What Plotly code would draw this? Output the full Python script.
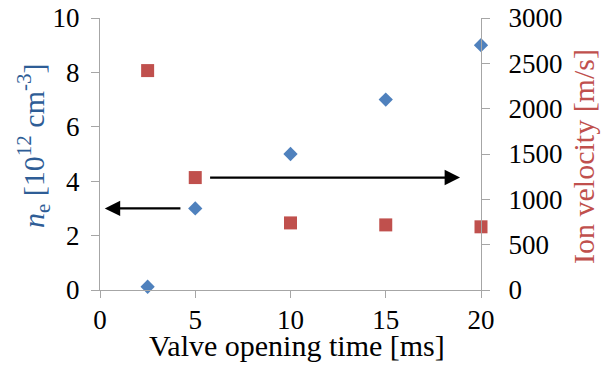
import plotly.graph_objects as go

valve_time = [2.5, 5, 10, 15, 20]
ne_values = [0.12, 3.0, 5.0, 7.0, 9.0]
ion_velocity = [2420, 1240, 740, 718, 697]
x_ticks = [0, 5, 10, 15, 20]
left_ticks = [0, 2, 4, 6, 8, 10]
right_ticks = [0, 500, 1000, 1500, 2000, 2500, 3000]

font_family = "Liberation Serif"
blue = "#4F81BD"
red = "#C0504D"
axis_gray = "#A6A6A6"

fig = go.Figure()
fig.add_trace(go.Scatter(x=valve_time, y=ne_values, mode="markers",
                         marker=dict(symbol="diamond", size=11, color=blue),
                         yaxis="y", showlegend=False, cliponaxis=False))
fig.add_trace(go.Scatter(x=valve_time, y=ion_velocity, mode="markers",
                         marker=dict(symbol="square", size=13, color=red),
                         yaxis="y2", showlegend=False, cliponaxis=False))

# arrows pointing to respective axes
fig.add_annotation(x=0.25, y=3, ax=4.3, ay=3, xref="x", yref="y", axref="x", ayref="y",
                   showarrow=True, arrowhead=2, arrowsize=1.4, arrowwidth=2.2,
                   arrowcolor="black", text="")
fig.add_annotation(x=18.9, y=1240 / 300, ax=5.7, ay=1240 / 300, xref="x", yref="y",
                   axref="x", ayref="y", showarrow=True, arrowhead=2, arrowsize=1.4,
                   arrowwidth=2.2, arrowcolor="black", text="")

titlesize = 30
# axis titles
fig.add_annotation(x=0.5, y=0, xref="paper", yref="paper", xanchor="center", yanchor="middle",
                   xshift=6, yshift=-55, showarrow=False, text="Valve opening time [ms]",
                   font=dict(family=font_family, size=titlesize, color="black"))
fig.add_annotation(x=0, y=0.5, xref="paper", yref="paper", xanchor="center", yanchor="middle",
                   xshift=-67, yshift=8, textangle=-90, showarrow=False,
                   text="<i>n</i><sub>e</sub> [10<sup>12</sup> cm<sup>-3</sup>]",
                   font=dict(family=font_family, size=titlesize, color="#2E5D96"))
fig.add_annotation(x=1, y=0.5, xref="paper", yref="paper", xanchor="center", yanchor="middle",
                   xshift=102, yshift=-3, textangle=-90, showarrow=False,
                   text="Ion velocity [m/s]",
                   font=dict(family=font_family, size=titlesize, color=red))

tickfont = dict(family=font_family, size=27, color="black")
fig.update_layout(
    width=608, height=365,
    margin=dict(l=100, r=127, t=18, b=75),
    paper_bgcolor="white", plot_bgcolor="white",
    xaxis=dict(range=[0, 20], tickvals=x_ticks, showgrid=False, zeroline=False,
               showline=True, linecolor=axis_gray, linewidth=1, automargin=False,
               ticks="outside", ticklen=7, tickcolor=axis_gray,
               tickfont=tickfont, ticklabelstandoff=-1, ticklabeloverflow="allow"),
    yaxis=dict(range=[0, 10], tickvals=left_ticks, showgrid=False, zeroline=False,
               showline=True, linecolor=axis_gray, linewidth=1, automargin=False,
               ticks="outside", ticklen=8, tickcolor=axis_gray,
               tickfont=tickfont, ticklabelstandoff=6, ticklabeloverflow="allow"),
    yaxis2=dict(range=[0, 3000], tickvals=right_ticks, overlaying="y", side="right",
                showgrid=False, zeroline=False, automargin=False,
                showline=True, linecolor=axis_gray, linewidth=1,
                ticks="outside", ticklen=8, tickcolor=axis_gray,
                tickfont=tickfont, ticklabelstandoff=13, ticklabeloverflow="allow"),
)

fig.write_html("out.html", config={"displayModeBar": False},
               post_script="document.body.style.margin='0';")
